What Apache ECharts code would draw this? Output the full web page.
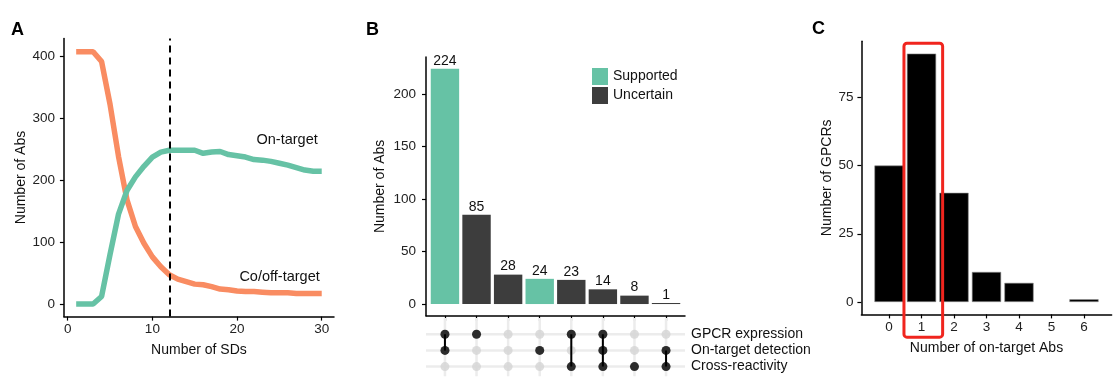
<!DOCTYPE html>
<html><head><meta charset="utf-8">
<script src="https://cdn.jsdelivr.net/npm/echarts@6/dist/echarts.min.js"></script>
<style>html,body{margin:0;padding:0;background:#fff}#c{width:1119px;height:391px}</style>
</head><body><div id="c"></div>
<script>
// ---- Panel A data ----
const sdValues = [1,2,3,4,5,6,7,8,9,10,11,12,13,14,15,16,17,18,19,20,21,22,23,24,25,26,27,28,29,30];
const onTarget = [0,0,0,12,80,145,183,205,222,237,245,248,248,248,248,243,245,246,241,239,237,233,232,230,227,224,220,216,214,214];
const offTarget = [407,407,407,391,322,238,168,125,98,76,60,47,40,36,32,31,28,24,23,21,20,20,19,18,18,18,17,17,17,17];
const cutoffSD = 12;
const aXTicks = [0,10,20,30];
const aYTicks = [0,100,200,300,400];

// ---- Panel B data ----
const setNames = ['GPCR expression','On-target detection','Cross-reactivity'];
const comboCounts = [224,85,28,24,23,14,8,1];
const comboStatus = ['Supported','Uncertain','Uncertain','Supported','Uncertain','Uncertain','Uncertain','Uncertain'];
// membership per combination: [GPCR expression, On-target detection, Cross-reactivity]
const comboMembers = [[1,1,0],[1,0,0],[0,0,0],[0,1,0],[1,0,1],[1,1,1],[0,0,1],[0,1,1]];
const bYTicks = [0,50,100,150,200];

// ---- Panel C data ----
const onTargetAbs = [0,1,2,3,4,5,6];
const gpcrCounts = [50,91,40,11,7,0,1];
const cYTicks = [0,25,50,75];
const highlightCategory = 1;

const FONT = "'Liberation Sans', Arial, Helvetica, sans-serif";
const GREEN = '#66C2A5', ORANGE = '#F98C62', DARK = '#3d3d3d';

function axisBase(extra){
  return Object.assign({
    axisLine:{show:true, onZero:false, lineStyle:{color:'#000', width:1.5}},
    axisTick:{show:true, length:4, lineStyle:{color:'#000', width:1.2}},
    axisLabel:{color:'#222', fontSize:13.5, fontFamily:FONT},
    splitLine:{show:false},
    nameTextStyle:{color:'#111', fontSize:14, fontFamily:FONT}
  }, extra);
}
function deep(a,b){
  const r = Object.assign({}, a);
  for (const k in b){ if (typeof b[k]==='object' && !Array.isArray(b[k]) && r[k]) r[k]=Object.assign({}, r[k], b[k]); else r[k]=b[k]; }
  return r;
}

const xs = comboCounts.map((_,i)=>i+1);
const rowY = {'GPCR expression':3,'On-target detection':2,'Cross-reactivity':1};

const series = [];
// Panel A lines
series.push({type:'line', xAxisIndex:0, yAxisIndex:0, data: sdValues.map((x,i)=>[x, offTarget[i]]),
  showSymbol:false, symbol:'none', lineStyle:{color:ORANGE, width:5.5}, itemStyle:{color:ORANGE}, z:3});
series.push({type:'line', xAxisIndex:0, yAxisIndex:0, data: sdValues.map((x,i)=>[x, onTarget[i]]),
  showSymbol:false, symbol:'none', lineStyle:{color:GREEN, width:5.5}, itemStyle:{color:GREEN}, z:3,
  markLine:{silent:true, symbol:'none', label:{show:false}, data:[{xAxis:cutoffSD}],
    lineStyle:{color:'#000', width:2, type:[7,5]}}});

// Panel B bars
['Supported','Uncertain'].forEach(st=>{
  series.push({type:'bar', name:st, xAxisIndex:1, yAxisIndex:1, barWidth:28.4, barGap:'-100%',
    data: xs.map((x,i)=> comboStatus[i]===st ? [x, comboCounts[i]] : [x, null]),
    itemStyle:{color: st==='Supported'?GREEN:DARK},
    label:{show:true, position:'top', distance:1, color:'#111', fontSize:14, fontFamily:FONT,
      formatter:p=> p.value[1]==null?'':String(p.value[1])}});
});

// Panel B matrix: grid lines
setNames.forEach(n=>{
  series.push({type:'line', xAxisIndex:2, yAxisIndex:2, data:[[0.4,rowY[n]],[8.6,rowY[n]]], symbol:'none', silent:true,
    lineStyle:{color:'#ececec', width:2.5}, z:1});
});
xs.forEach(x=>{
  series.push({type:'line', xAxisIndex:2, yAxisIndex:2, data:[[x,0.4],[x,4.0]], symbol:'none', silent:true,
    lineStyle:{color:'#ececec', width:2.5}, z:1});
});
const greyPts = [];
xs.forEach(x=> setNames.forEach(n=> greyPts.push([x, rowY[n]])));
series.push({type:'scatter', xAxisIndex:2, yAxisIndex:2, data:greyPts, symbolSize:9, itemStyle:{color:'#d4d4d4'}, z:2, silent:true});
comboMembers.forEach((m,i)=>{
  const ys = m.map((v,j)=> v? rowY[setNames[j]] : null).filter(v=>v!=null);
  if (ys.length>1){
    series.push({type:'line', xAxisIndex:2, yAxisIndex:2, data:[[xs[i],Math.min(...ys)],[xs[i],Math.max(...ys)]],
      symbol:'none', silent:true, lineStyle:{color:'#000', width:2}, z:3});
  }
});
const blackPts = [];
comboMembers.forEach((m,i)=> m.forEach((v,j)=>{ if(v) blackPts.push([xs[i], rowY[setNames[j]]]); }));
series.push({type:'scatter', xAxisIndex:2, yAxisIndex:2, data:blackPts, symbolSize:9, itemStyle:{color:'#000'}, z:4, silent:true});

// Panel C bars
series.push({type:'bar', xAxisIndex:3, yAxisIndex:3, barWidth:29.2,
  data: onTargetAbs.map((x,i)=> gpcrCounts[i]===0 ? {value:[x,0], itemStyle:{borderWidth:0, opacity:0}} : {value:[x, gpcrCounts[i]]}),
  itemStyle:{color:'#000', borderColor:'#8a8a8a', borderWidth:0.6}});

const option = {
  animation:false,
  textStyle:{fontFamily:FONT},
  legend:{data:['Supported','Uncertain'], orient:'vertical', left:592, top:68, itemWidth:16, itemHeight:17, itemGap:2,
    icon:'rect', padding:0, textStyle:{fontSize:14, color:'#111', fontFamily:FONT}, selectedMode:false},
  grid:[
    {left:63.9, top:38.4, width:270.1, height:278.2},
    {left:426, top:57, width:259, height:258.8},
    {left:426, top:318, width:259, height:58.3},
    {left:861.4, top:41.2, width:250.2, height:273.2}
  ],
  xAxis:[
    deep(axisBase({type:'value', gridIndex:0, min:-0.45, max:31.45, name:'Number of SDs', nameLocation:'middle', nameGap:27}),
      {axisLabel:{customValues:aXTicks, margin:6}, axisTick:{customValues:aXTicks}}),
    deep(axisBase({type:'value', gridIndex:1, min:0.4, max:8.6}),
      {axisLabel:{show:false}, axisTick:{customValues:xs, length:5}}),
    {type:'value', gridIndex:2, min:0.4, max:8.6, show:false},
    deep(axisBase({type:'value', gridIndex:3, min:-0.85, max:6.85, name:'Number of on-target Abs', nameLocation:'middle', nameGap:27}),
      {axisLabel:{customValues:onTargetAbs, margin:6}, axisTick:{customValues:onTargetAbs}})
  ],
  yAxis:[
    deep(axisBase({type:'value', gridIndex:0, min:-20.4, max:428.4, name:'Number of Abs', nameLocation:'middle', nameGap:36}),
      {axisLabel:{customValues:aYTicks, margin:9}, axisTick:{customValues:aYTicks}}),
    deep(axisBase({type:'value', gridIndex:1, min:-11.2, max:235.2, name:'Number of Abs', nameLocation:'middle', nameGap:39}),
      {axisLabel:{customValues:bYTicks, margin:10}, axisTick:{customValues:bYTicks}}),
    {type:'value', gridIndex:2, min:0.4, max:4.0, position:'right', axisLine:{show:false}, axisTick:{show:false}, splitLine:{show:false},
      axisLabel:{customValues:[1,2,3], margin:6, color:'#111', fontSize:14, fontFamily:FONT,
        formatter:v=>{ for (const n in rowY) if (rowY[n]===v) return n; return ''; }}},
    deep(axisBase({type:'value', gridIndex:3, min:-4.55, max:95.55, name:'Number of GPCRs', nameLocation:'middle', nameGap:20}),
      {axisLabel:{customValues:cYTicks, margin:8}, axisTick:{customValues:cYTicks}})
  ],
  series:series
};

const chart = echarts.init(document.getElementById('c'), null, {renderer:'canvas'});
chart.setOption(option);

// annotations positioned through the chart's scales
const lblOn = chart.convertToPixel({gridIndex:0}, [30, 265]);
const lblOff = chart.convertToPixel({gridIndex:0}, [30, 44]);
const boxTL = chart.convertToPixel({gridIndex:3}, [highlightCategory-0.54, 94.8]);
const boxBR = chart.convertToPixel({gridIndex:3}, [highlightCategory+0.65, -12.9]);
chart.setOption({graphic:[
  {type:'text', left:11, top:21, style:{text:'A', font:'bold 18px '+FONT, fill:'#000'}},
  {type:'text', left:366, top:21, style:{text:'B', font:'bold 18px '+FONT, fill:'#000'}},
  {type:'text', left:812, top:20, style:{text:'C', font:'bold 18px '+FONT, fill:'#000'}},
  {type:'text', x:lblOn[0]-4, y:lblOn[1], style:{text:'On-target', font:'14.5px '+FONT, fill:'#111', align:'right', verticalAlign:'middle'}},
  {type:'text', x:lblOff[0]-2, y:lblOff[1], style:{text:'Co/off-target', font:'14.5px '+FONT, fill:'#111', align:'right', verticalAlign:'middle'}},
  {type:'rect', shape:{x:boxTL[0], y:boxTL[1], width:boxBR[0]-boxTL[0], height:boxBR[1]-boxTL[1], r:3},
    style:{fill:'none', stroke:'#F0251E', lineWidth:3}, z:100}
]});
</script></body></html>
